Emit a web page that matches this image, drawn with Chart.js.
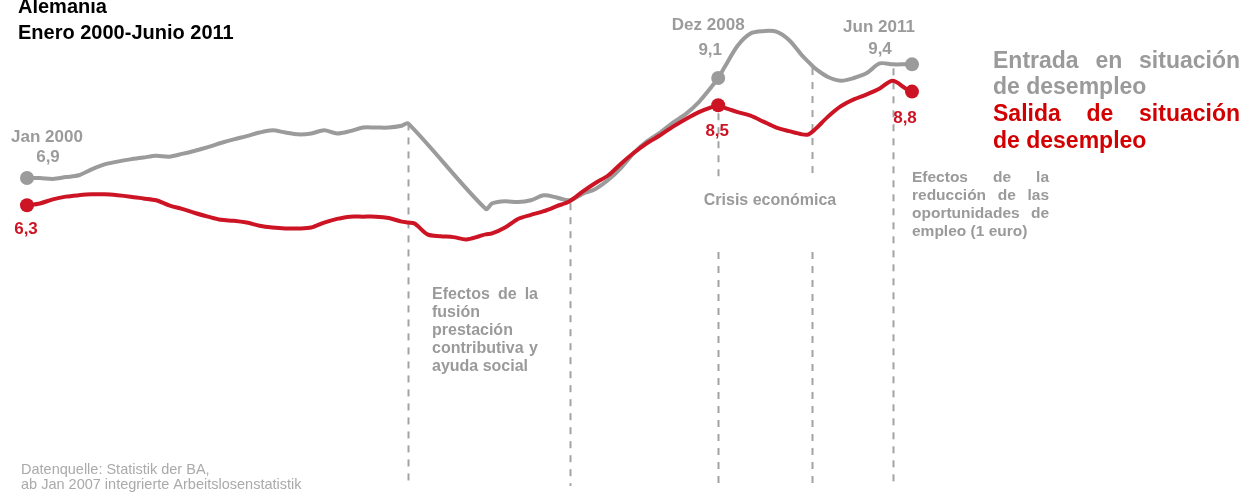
<!DOCTYPE html>
<html>
<head>
<meta charset="utf-8">
<script src="https://cdn.jsdelivr.net/npm/chart.js@4.4.0/dist/chart.umd.min.js"></script>
<style>
  html, body { margin: 0; padding: 0; background: #fff; }
  #wrap { position: relative; width: 1252px; height: 493px; }
</style>
</head>
<body>
<div id="wrap"><canvas id="chart"></canvas></div>
<script>
// months counted from Jan 2000 (0) to Jun 2011 (137)
const months = [0, 2, 4, 6, 8, 10, 12, 14, 16, 18, 20, 22, 24, 26, 28, 30, 32, 34, 36, 38,
  40, 42, 44, 46, 48, 50, 52, 54, 56, 58, 59, 60, 62, 64, 66, 68, 70, 71, 72, 74,
  76, 78, 80, 82, 84, 86, 88, 90, 92, 94, 96, 98, 100, 102, 104, 106, 107, 108, 110, 112,
  114, 116, 118, 120, 121, 122, 124, 126, 128, 130, 132, 134, 136, 137];

// Entrada en situación de desempleo (gray)
const entrada = [6.90, 6.90, 6.88, 6.92, 6.96, 7.09, 7.20, 7.26, 7.31, 7.35, 7.39, 7.37, 7.43, 7.50, 7.58, 7.67, 7.75, 7.82, 7.90, 7.95,
  7.90, 7.86, 7.88, 7.95, 7.88, 7.93, 8.01, 8.01, 8.01, 8.05, 8.10, null, null, null, null, null, null, 6.22, 6.34, 6.39,
  6.37, 6.41, 6.52, 6.47, 6.41, 6.55, 6.66, 6.86, 7.13, 7.46, 7.71, 7.90, 8.12, 8.31, 8.57, 8.91, 9.10, 9.34, 9.81, 10.08,
  10.13, 10.12, 9.93, 9.59, 9.45, 9.31, 9.12, 9.04, 9.10, 9.21, 9.42, 9.40, 9.40, 9.40];

// Salida de situación de desempleo (red)
const salida = [6.30, 6.34, 6.43, 6.49, 6.52, 6.54, 6.54, 6.52, 6.49, 6.45, 6.41, 6.30, 6.22, 6.13, 6.05, 5.98, 5.96, 5.92, 5.85, 5.81,
  5.79, 5.79, 5.81, 5.92, 6.00, 6.05, 6.05, 6.05, 6.02, 5.94, 5.92, 5.90, 5.66, 5.62, 5.60, 5.55, 5.62, 5.66, 5.68, 5.81,
  6.00, 6.09, 6.17, 6.28, 6.39, 6.60, 6.79, 6.96, 7.22, 7.46, 7.67, 7.84, 8.03, 8.20, 8.35, 8.46, 8.50, 8.44, 8.35, 8.27,
  8.14, 8.01, 7.93, 7.86, 7.86, 7.97, 8.25, 8.48, 8.63, 8.74, 8.87, 9.04, 8.87, 8.80];

const keyMonths = [0, 107, 137];
const markerMonths = [59, 84, 107, 121.5, 134];

const GRAY = '#9b9b9b';
const RED = '#cc1424';
const FONT = "'Liberation Sans', Arial, Helvetica, sans-serif";

function toPoints(vals) {
  return months.map((m, i) => ({ x: m, y: vals[i] }));
}

function valueAt(vals, m) {
  let i = months.indexOf(m);
  if (i >= 0 && vals[i] != null) return vals[i];
  // nearest read value
  let best = null, bd = 1e9;
  months.forEach((mm, j) => {
    if (vals[j] != null && Math.abs(mm - m) < bd) { bd = Math.abs(mm - m); best = vals[j]; }
  });
  return best;
}

function justify(ctx, words, x, y, width) {
  if (words.length === 1) { ctx.fillText(words[0], x, y); return; }
  const total = words.reduce((s, w) => s + ctx.measureText(w).width, 0);
  const gap = (width - total) / (words.length - 1);
  let cx = x;
  words.forEach(w => { ctx.fillText(w, cx, y); cx += ctx.measureText(w).width + gap; });
}

const markerPlugin = {
  id: 'markers',
  beforeDatasetsDraw(chart) {
    const { ctx, scales: { x, y }, chartArea } = chart;
    ctx.save();
    ctx.strokeStyle = '#a3a3a3';
    ctx.lineWidth = 2;
    ctx.setLineDash([7, 7]);
    const tops = {
      59: y.getPixelForValue(valueAt(entrada, 59)),
      84: y.getPixelForValue(valueAt(salida, 84)) + 2,
      107: y.getPixelForValue(valueAt(salida, 107)) + 8,
      121.5: y.getPixelForValue(valueAt(entrada, 121)) + 6,
      134: y.getPixelForValue(valueAt(entrada, 134)) + 4
    };
    markerMonths.forEach(m => {
      const px = Math.round(x.getPixelForValue(m)) + 0.5;
      const segs = (m === 107 || m === 121.5)
        ? [[tops[m], 180], [252, chartArea.bottom]]
        : [[tops[m], chartArea.bottom]];
      segs.forEach(([a, b]) => {
        ctx.beginPath();
        ctx.moveTo(px, a);
        ctx.lineTo(px, b);
        ctx.stroke();
      });
    });
    ctx.restore();
  },
  afterDraw(chart) {
    const { ctx, scales: { x, y } } = chart;
    ctx.save();
    ctx.textBaseline = 'alphabetic';

    // titles
    ctx.fillStyle = '#000';
    ctx.font = 'bold 20px ' + FONT;
    ctx.textAlign = 'left';
    ctx.fillText('Alemania', 18, 13);
    ctx.fillText('Enero 2000-Junio 2011', 18, 39);

    // point labels
    ctx.font = 'bold 17px ' + FONT;
    ctx.textAlign = 'center';
    const gx0 = x.getPixelForValue(0), gy0 = y.getPixelForValue(entrada[0]);
    const ry0 = y.getPixelForValue(salida[0]);
    const gx1 = x.getPixelForValue(107), gy1 = y.getPixelForValue(valueAt(entrada, 107));
    const ry1 = y.getPixelForValue(valueAt(salida, 107));
    const gx2 = x.getPixelForValue(137), gy2 = y.getPixelForValue(valueAt(entrada, 137));
    const ry2 = y.getPixelForValue(valueAt(salida, 137));

    ctx.fillStyle = GRAY;
    ctx.fillText('Jan 2000', gx0 + 20, gy0 - 36);
    ctx.fillText('6,9', gx0 + 21, gy0 - 16);
    ctx.fillText('Dez 2008', gx1 - 10, gy1 - 48);
    ctx.fillText('9,1', gx1 - 8, gy1 - 23);
    ctx.fillText('Jun 2011', gx2 - 33, gy2 - 32);
    ctx.fillText('9,4', gx2 - 32, gy2 - 10);

    ctx.fillStyle = RED;
    ctx.fillText('6,3', gx0 - 1, ry0 + 29);
    ctx.fillText('8,5', gx1 - 1, ry1 + 31);
    ctx.fillText('8,8', gx2 - 7, ry2 + 31);

    // legend (justified block)
    ctx.textAlign = 'left';
    ctx.font = 'bold 23px ' + FONT;
    ctx.fillStyle = '#9a9a9a';
    justify(ctx, ['Entrada', 'en', 'situación'], 993, 68, 247);
    ctx.fillText('de desempleo', 993, 94);
    ctx.fillStyle = '#d20000';
    justify(ctx, ['Salida', 'de', 'situación'], 993, 121, 247);
    ctx.fillText('de desempleo', 993, 148);

    // notes
    ctx.font = 'bold 16px ' + FONT;
    ctx.fillStyle = '#9a9a9a';
    justify(ctx, ['Efectos', 'de', 'la'], 432, 299, 106);
    ctx.fillText('fusión', 432, 317);
    ctx.fillText('prestación', 432, 335);
    justify(ctx, ['contributiva', 'y'], 432, 353, 106);
    ctx.fillText('ayuda social', 432, 371);

    ctx.textAlign = 'center';
    ctx.fillText('Crisis económica', 770, 205);
    ctx.textAlign = 'left';

    ctx.font = 'bold 15.5px ' + FONT;
    justify(ctx, ['Efectos', 'de', 'la'], 912, 182, 137);
    justify(ctx, ['reducción', 'de', 'las'], 912, 200, 137);
    justify(ctx, ['oportunidades', 'de'], 912, 218, 137);
    ctx.fillText('empleo (1 euro)', 912, 236);

    // source
    ctx.font = '14.5px ' + FONT;
    ctx.fillStyle = '#aaaaaa';
    ctx.fillText('Datenquelle: Statistik der BA,', 21, 474);
    ctx.fillText('ab Jan 2007 integrierte Arbeitslosenstatistik', 21, 489);
    ctx.restore();
  }
};

function radiusFor(ctx) {
  const p = ctx.raw;
  return p && keyMonths.includes(p.x) ? 7 : 0;
}

new Chart(document.getElementById('chart'), {
  type: 'line',
  data: {
    datasets: [
      {
        label: 'Salida de situación de desempleo',
        data: toPoints(salida),
        borderColor: RED,
        backgroundColor: RED,
        borderWidth: 4,
        tension: 0.3,
        pointRadius: radiusFor,
        pointBorderWidth: 0,
        clip: false
      },
      {
        label: 'Entrada en situación de desempleo',
        data: toPoints(entrada),
        borderColor: GRAY,
        backgroundColor: GRAY,
        borderWidth: 4,
        tension: 0.3,
        spanGaps: true,
        pointRadius: radiusFor,
        pointBorderWidth: 0,
        clip: false
      }
    ]
  },
  options: {
    responsive: true,
    maintainAspectRatio: false,
    animation: false,
    events: [],
    layout: { padding: { left: 27, right: 340, top: 0, bottom: 0 } },
    plugins: { legend: { display: false }, tooltip: { enabled: false } },
    scales: {
      x: { type: 'linear', min: 0, max: 137, display: false },
      y: { min: 0.126, max: 10.661, display: false }
    }
  },
  plugins: [markerPlugin]
});
</script>
</body>
</html>
